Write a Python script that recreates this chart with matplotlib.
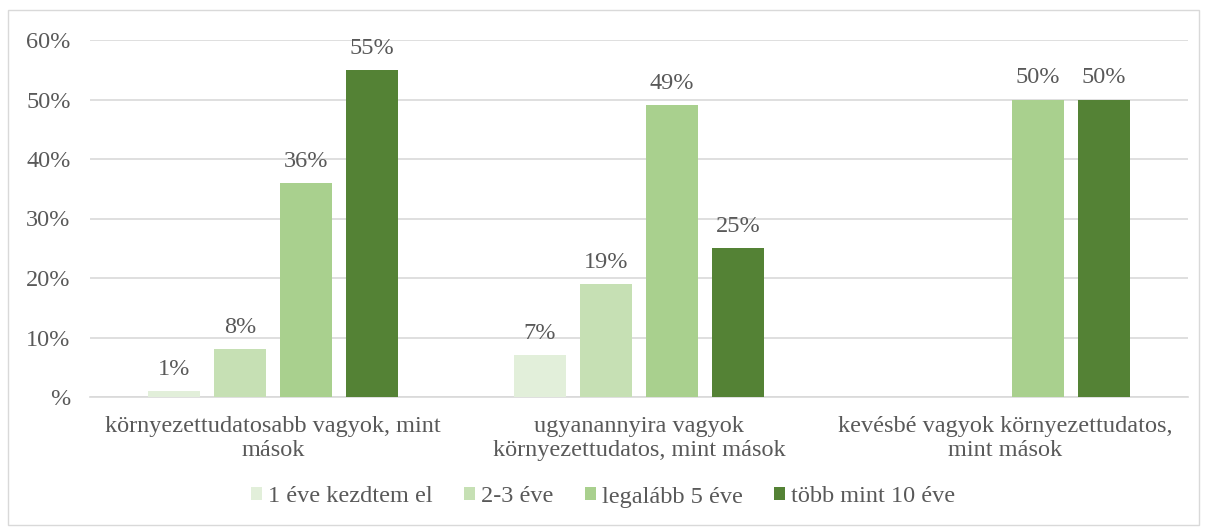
import matplotlib.pyplot as plt
import numpy as np
from matplotlib.patches import Rectangle

categories = [
    "környezettudatosabb vagyok, mint\nmások",
    "ugyanannyira vagyok\nkörnyezettudatos, mint mások",
    "kevésbé vagyok környezettudatos,\nmint mások",
]
series_names = ["1 éve kezdtem el", "2-3 éve", "legalább 5 éve", "több mint 10 éve"]
values = [
    [1, 7, None],
    [8, 19, None],
    [36, 49, 50],
    [55, 25, 50],
]
colors = ["#E2EFDA", "#C6E0B4", "#A9D08E", "#548235"]
y_ticks = [0, 10, 20, 30, 40, 50, 60]

plt.rcParams["font.family"] = ["Liberation Serif", "DejaVu Serif"]
TEXT = "#595959"
FS = 17.5

fig = plt.figure(figsize=(12.06, 5.32), dpi=100)
ax = fig.add_axes([90 / 1206, 1 - 397 / 532, 1098 / 1206, 357 / 532])

x = np.arange(len(categories))
width = 52 / 366
step = 66 / 366
for i, (name, vals, col) in enumerate(zip(series_names, values, colors)):
    offs = (i - 1.5) * step
    h = [v if v is not None else 0 for v in vals]
    ax.bar(x + offs, h, width, color=col, label=name, zorder=3)
    for xi, v in zip(x, vals):
        if v is None:
            continue
        ax.annotate(f"{v}%", (xi + offs, v), xytext=(0, 8), textcoords="offset points",
                    ha="center", va="bottom", fontsize=FS, color=TEXT)

ax.set_xlim(-0.5, len(categories) - 0.5)
ax.set_ylim(0, 60)
ax.set_yticks(y_ticks)
ax.set_yticklabels([f"{t}%" if t else "%" for t in y_ticks])
ax.set_xticks(x)
ax.set_xticklabels(categories, linespacing=1.15)
ax.tick_params(axis="both", length=0, labelsize=FS, labelcolor=TEXT)
ax.tick_params(axis="y", pad=14)
ax.tick_params(axis="x", pad=14)
ax.grid(axis="y", color="#D9D9D9", linewidth=1.2, zorder=0)
for s in ["top", "right", "left"]:
    ax.spines[s].set_visible(False)
ax.spines["bottom"].set_color("#D9D9D9")
ax.spines["bottom"].set_linewidth(1.2)

leg = fig.legend(loc="center", bbox_to_anchor=(0.5, 1 - 497 / 532), ncol=4, frameon=False,
                 fontsize=FS, handlelength=0.45, handleheight=0.45, handletextpad=0.25,
                 columnspacing=1.3)
for t in leg.get_texts():
    t.set_color(TEXT)

fig.patches.append(Rectangle((8 / 1206, 1 - 525 / 532), 1191 / 1206, 515 / 532,
                             transform=fig.transFigure, fill=False,
                             edgecolor="#D9D9D9", linewidth=1))

fig.savefig("out.png", dpi=100)
